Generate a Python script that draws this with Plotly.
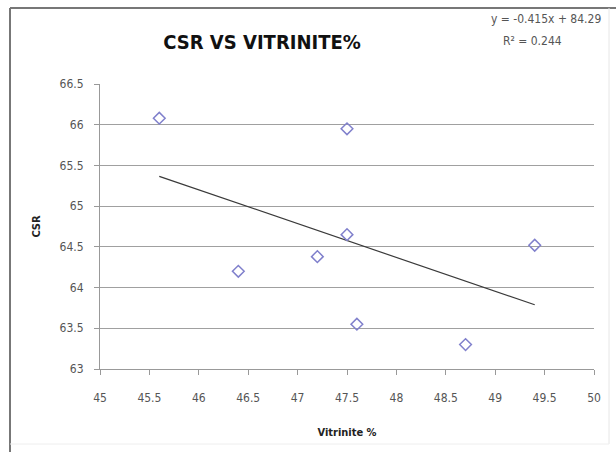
import plotly.graph_objects as go

vitrinite = [45.6, 47.5, 47.5, 46.4, 47.2, 47.6, 48.7, 49.4]
csr = [66.08, 65.95, 64.65, 64.2, 64.38, 63.55, 63.3, 64.52]
x_ticks = [45, 45.5, 46, 46.5, 47, 47.5, 48, 48.5, 49, 49.5, 50]
y_ticks = [63, 63.5, 64, 64.5, 65, 65.5, 66, 66.5]
trend_slope = -0.415
trend_intercept = 84.29
trend_r2 = 0.244

tx = [min(vitrinite), max(vitrinite)]
ty = [trend_slope * v + trend_intercept for v in tx]

NARROW = "DejaVu Sans Condensed, Liberation Sans Narrow, Arial Narrow, sans-serif"

fig = go.Figure()
fig.add_trace(go.Scatter(x=tx, y=ty, mode="lines",
                         line=dict(color="#3a3a3a", width=1.2), hoverinfo="skip"))
fig.add_trace(go.Scatter(x=vitrinite, y=csr, mode="markers",
                         marker=dict(symbol="diamond-open", size=9,
                                     color="#8080cc", line=dict(width=1.5))))

axis_font = dict(family=NARROW, size=12, color="#555555")
fig.update_layout(
    width=616, height=452,
    margin=dict(l=100, r=22, t=84, b=83),
    paper_bgcolor="white", plot_bgcolor="white",
    showlegend=False,
    title=dict(text="<b>CSR VS VITRINITE%</b>", x=262 / 616, xanchor="center",
               xref="container", y=1 - 42 / 452, yanchor="middle", yref="container",
               font=dict(family=NARROW, size=20, color="#111111")),
    xaxis=dict(range=[45, 50], tickvals=x_ticks, ticktext=[f"{v:g}" for v in x_ticks],
               showgrid=False, zeroline=False, showline=True, linecolor="#999999",
               ticks="outside", ticklen=5, tickcolor="#999999", tickfont=axis_font,
               ticklabelstandoff=13,
               title=dict(text="<b>Vitrinite %</b>", standoff=23,
                          font=dict(family=NARROW, size=11, color="#222222"))),
    yaxis=dict(range=[63, 66.5], tickvals=y_ticks, ticktext=[f"{v:g}" for v in y_ticks],
               showgrid=True, gridcolor="#a0a0a0", gridwidth=1, zeroline=False,
               showline=True, linecolor="#999999",
               ticks="outside", ticklen=5, tickcolor="#999999", tickfont=axis_font,
               ticklabelstandoff=8,
               title=dict(text="<b>CSR</b>", standoff=16,
                          font=dict(family=NARROW, size=11, color="#222222"))),
)

def px(xp): return (xp - 100) / 494
def py(yp): return (452 - 83 - yp) / 285

fig.add_annotation(xref="paper", yref="paper", x=px(546), y=py(19),
                   text=f"y = {trend_slope:.3f}x + {trend_intercept:.2f}", showarrow=False,
                   xanchor="center", yanchor="middle",
                   font=dict(family=NARROW, size=12, color="#555555"))
fig.add_annotation(xref="paper", yref="paper", x=px(532), y=py(41),
                   text=f"R² = {trend_r2:.3f}", showarrow=False,
                   xanchor="center", yanchor="middle",
                   font=dict(family=NARROW, size=12, color="#555555"))

# outer chart frame
fig.add_shape(type="line", xref="paper", yref="paper", x0=px(10), x1=px(10), y0=py(8), y1=py(452),
              line=dict(color="#777777", width=2))
fig.add_shape(type="line", xref="paper", yref="paper", x0=px(10), x1=px(616), y0=py(8), y1=py(8),
              line=dict(color="#777777", width=2))
fig.add_shape(type="line", xref="paper", yref="paper", x0=px(609), x1=px(609), y0=py(8), y1=py(444),
              line=dict(color="#e6e6e6", width=1))
fig.add_shape(type="line", xref="paper", yref="paper", x0=px(10), x1=px(609), y0=py(444), y1=py(444),
              line=dict(color="#eeeeee", width=1))

fig.write_html("out.html", config={"displayModeBar": False},
               post_script="document.body.style.margin='0';document.body.style.overflow='hidden';")
